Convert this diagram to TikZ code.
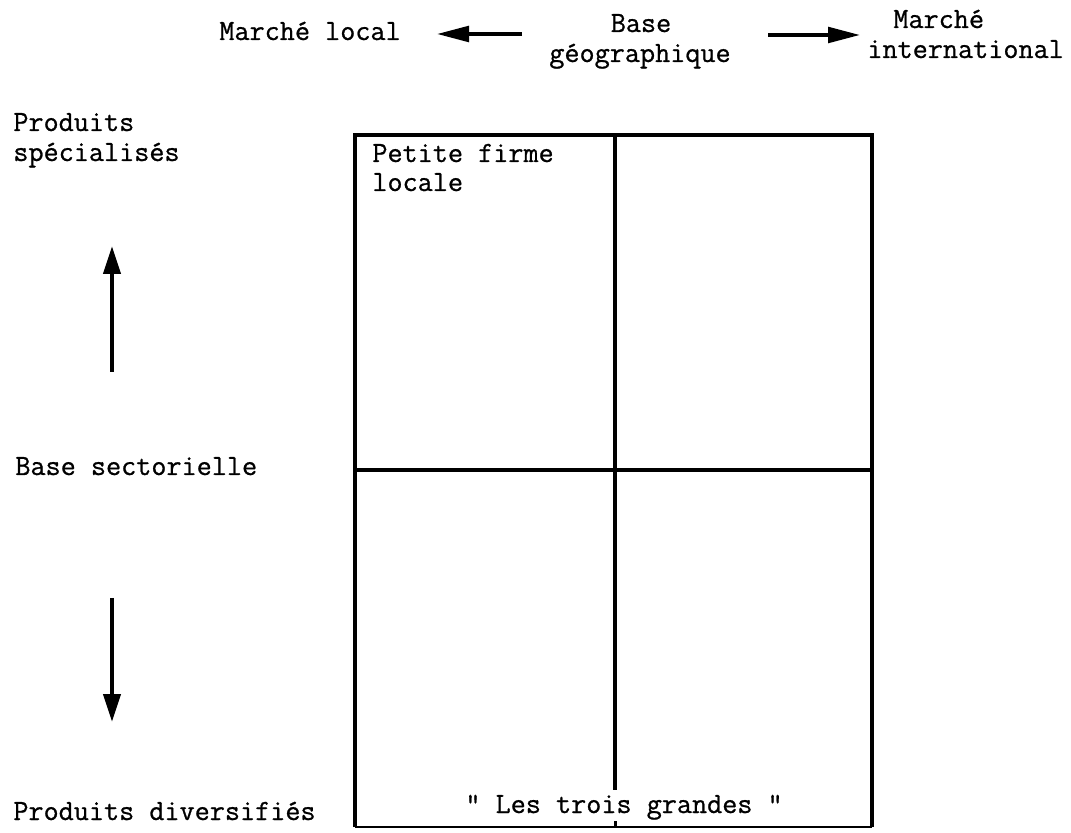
\documentclass[tikz,border=0pt]{standalone}
\usepackage{fontspec}
\newfontfamily\typew[FakeBold=0.8]{Latin Modern Mono}
\usetikzlibrary{arrows.meta}
\begin{document}
\begin{tikzpicture}[x=0.5pt,y=-0.5pt,
  lbl/.style={font=\typew\fontsize{14.67}{15.4}\selectfont, inner sep=0pt, anchor=base west},
  boxline/.style={line width=2.3pt},
  harr/.style={line width=1.8pt, -{Triangle[length=16pt,width=7.8pt]}},
  varr/.style={line width=2pt, -{Triangle[length=14pt,width=8.5pt]}}]
\useasboundingbox (0,0) rectangle (1071,833);
% grid
\coordinate (tl) at (355,135);
\coordinate (tr) at (872,135);
\coordinate (bl) at (355,827);
\coordinate (br) at (872,827);
\coordinate (ml) at (355,470);
\coordinate (mr) at (872,470);
\coordinate (mt) at (615,135);
\coordinate (mb) at (615,790);
\coordinate (sb) at (615,827);
\coordinate (st) at (615,821);
\draw[boxline] (bl) -- (tl) -- (tr) -- (br);
\draw[line width=1pt] (bl) -- (br);
\draw[boxline] (ml) -- (mr);
\draw[boxline] (mt) -- (mb);
\draw[line width=1.5pt] (sb) -- (st);
% labels
\node[lbl] (mloc) at (219,40) {Marché local};
\node[lbl, anchor=base] (bg1) at (641,32) {Base};
\node[lbl, anchor=base] (bg2) at (640,62) {géographique};
\node[lbl] (mi1) at (893,28) {Marché};
\node[lbl] (mi2) at (867,58) {international};
\node[lbl] (ps1) at (13,131) {Produits};
\node[lbl] (ps2) at (13,161) {spécialisés};
\node[lbl] (pf1) at (372,162) {Petite firme};
\node[lbl] (pf2) at (372,191) {locale};
\node[lbl] (bs) at (15,475) {Base sectorielle};
\node[lbl] (pd) at (13,820) {Produits diversifiés};
\node[lbl] (lg) at (465,813) {" Les trois grandes "};
% arrows
\coordinate (la0) at (522,34);
\coordinate (la1) at (437,34);
\coordinate (ra0) at (768,35);
\coordinate (ra1) at (860,35);
\coordinate (ua0) at (112,372);
\coordinate (ua1) at (112,246);
\coordinate (da0) at (112,598);
\coordinate (da1) at (112,722);
\draw[harr] (la0) -- (la1);
\draw[harr] (ra0) -- (ra1);
\draw[varr] (ua0) -- (ua1);
\draw[varr] (da0) -- (da1);
\end{tikzpicture}
\end{document}
